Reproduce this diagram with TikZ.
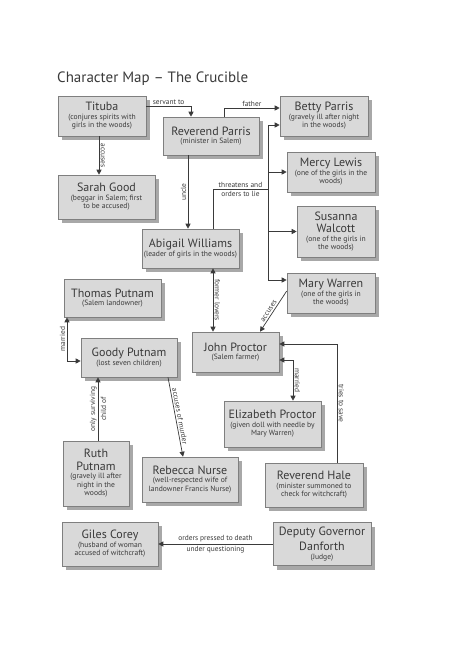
\documentclass[tikz,border=0pt]{standalone}
\usepackage{fontspec}
\setmainfont{PT Sans}
\usetikzlibrary{arrows.meta, shadows}

\definecolor{boxfill}{HTML}{D9D9D9}
\definecolor{boxline}{HTML}{7F7F7F}
\definecolor{shade}{HTML}{A8A8A8}
\definecolor{ink}{HTML}{3A3A3A}

\newcommand{\who}[1]{{\fontsize{12}{13}\selectfont #1}}

\begin{document}
\begin{tikzpicture}[
    x=1pt, y=-1pt,
    >={Triangle[length=5pt, width=5pt]},
    box/.style={draw=boxline, fill=boxfill, line width=0.6pt, align=center, text=ink,
      font=\fontsize{7.6}{8.5}\selectfont, inner sep=1pt,
      drop shadow={shadow xshift=4pt, shadow yshift=-4pt, fill=shade, opacity=1}},
    boxsize/.style 2 args={minimum width=#1pt, minimum height=#2pt},
    link/.style={draw=ink, line width=0.7pt},
    lbl/.style={font=\fontsize{7.4}{8.4}\selectfont, text=ink, inner sep=1.5pt},
  ]
  \fill[white] (0,0) rectangle (474,670);
  \useasboundingbox (0,0) rectangle (474,670);

  \node[anchor=base west, inner sep=0pt, text=ink, font=\fontsize{15}{17}\selectfont] (title) at (57,82) {Character Map – The Crucible};

  \node[box, boxsize={88}{40}] (tituba) at (102,116) {\who{Tituba}\\(conjures spirits with\\girls in the woods)};
  \node[box, boxsize={96}{38}] (parris) at (211,136) {\who{Reverend Parris}\\(minister in Salem)};
  \node[box, boxsize={88}{40}] (betty) at (324,116) {\who{Betty Parris}\\(gravely ill after night\\in the woods)};
  \node[box, boxsize={88}{40}] (mercy) at (331,172) {\who{Mercy Lewis}\\(one of the girls in the\\woods)};
  \node[box, boxsize={97}{44}] (sarah) at (106.5,197) {\who{Sarah Good}\\(beggar in Salem; first\\to be accused)};
  \node[box, boxsize={78}{51}] (susanna) at (336,231.5) {\who{Susanna}\\[3pt]\who{Walcott}\\(one of the girls in\\the woods)};
  \node[box, boxsize={97}{39}] (abigail) at (190.5,248.5) {\who{Abigail Williams}\\(leader of girls in the woods)};
  \node[box, boxsize={88}{40}] (mary) at (331,293) {\who{Mary Warren}\\(one of the girls in\\the woods)};
  \node[box, boxsize={97}{38}] (thomas) at (112.5,298) {\who{Thomas Putnam}\\(Salem landowner)};
  \node[box, boxsize={87}{40}] (proctor) at (235.5,352) {\who{John Proctor}\\(Salem farmer)};
  \node[box, boxsize={96}{39}] (goody) at (129,357.5) {\who{Goody Putnam}\\(lost seven children)};
  \node[box, boxsize={97}{46}] (elizabeth) at (272.5,424) {\who{Elizabeth Proctor}\\(given doll with needle by\\Mary Warren)};
  \node[box, boxsize={66}{65}] (ruth) at (96,473.5) {\who{Ruth}\\[3pt]\who{Putnam}\\(gravely ill after\\night in the\\woods)};
  \node[box, boxsize={96}{45}] (rebecca) at (190,479.5) {\who{Rebecca Nurse}\\(well-respected wife of\\landowner Francis Nurse)};
  \node[box, boxsize={98}{44}] (hale) at (314,485) {\who{Reverend Hale}\\(minister summoned to\\check for witchcraft)};
  \node[box, boxsize={96}{44}] (giles) at (110,544) {\who{Giles Corey}\\(husband of woman\\accused of witchcraft)};
  \node[box, boxsize={98}{43}] (danforth) at (322,544) {\who{Deputy Governor}\\[3pt]\who{Danforth}\\(Judge)};

  \coordinate (fork) at (268,189);

  \draw[link, ->] ([yshift=10pt]tituba.east) -| ([xshift=-20pt]parris.north)
    node[lbl, pos=0.25, above] {servant to};
  \draw[link, ->] ([xshift=-3pt]tituba.south) -- ([xshift=-3pt]tituba.south |- sarah.north)
    node[lbl, midway, above, rotate=-90] {accuses};
  \draw[link, ->] ([xshift=13pt]parris.north) |- ([yshift=8pt]betty.west)
    node[lbl, pos=0.75, above] {father};
  \draw[link, ->] ([xshift=-23pt]parris.south) -- ([xshift=-23pt]parris.south |- abigail.north)
    node[lbl, midway, above, rotate=90] {uncle};
  \draw[link] ([xshift=22.5pt]abigail.north) |- (fork)
    node[lbl, pos=0.75, above] {threatens and}
    node[lbl, pos=0.75, below] {orders to lie};
  \draw[link, ->] (fork) |- ([yshift=-9pt]betty.west);
  \draw[link, ->] (fork) |- (mercy.west);
  \draw[link, ->] (fork) |- (susanna.west);
  \draw[link, ->] (fork) |- ([yshift=13pt]mary.west);
  \draw[link, <->] ([xshift=22.5pt]abigail.south) -- ([xshift=22.5pt]abigail.south |- proctor.north)
    node[lbl, midway, above, rotate=-90] {former lovers};
  \draw[link, <-] ([xshift=24.5pt]proctor.north) -- ([yshift=2pt]mary.west)
    node[lbl, pos=0.45, above, sloped] {accuses};
  \draw[link, <->] ([xshift=-45.5pt]thomas.south) |- ([yshift=-3.5pt]goody.west)
    node[lbl, pos=0.25, above, rotate=90] {married};
  \draw[link, ->] ([xshift=2pt]ruth.north) -- ([xshift=2pt]ruth.north |- goody.south)
    node[lbl, midway, rotate=90, align=center] {only surviving\\[2.5pt]child of};
  \draw[link, ->] ([xshift=39pt]goody.south) -- ([xshift=-7pt]rebecca.north)
    node[lbl, midway, above, sloped] {accuses of murder};
  \draw[link, <->] ([yshift=-8pt]proctor.east) -| ([xshift=20.5pt]elizabeth.north)
    node[lbl, pos=0.75, above, rotate=-90] {married};
  \draw[link, ->] ([xshift=23pt]hale.north) |- ([yshift=8pt]proctor.east)
    node[lbl, pos=0.25, above, rotate=-90] {tries to save};
  \draw[link, ->] (danforth.west) -- (giles.east)
    node[lbl, midway, above] {orders pressed to death}
    node[lbl, midway, below] {under questioning};
\end{tikzpicture}
\end{document}
